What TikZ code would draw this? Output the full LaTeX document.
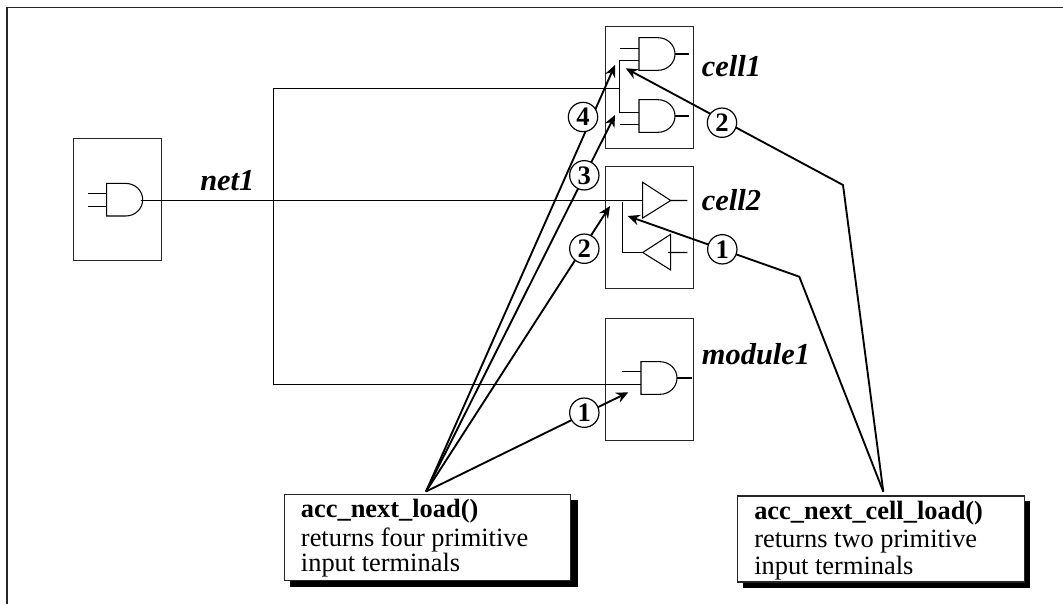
\documentclass[tikz,border=0pt]{standalone}
\usepackage{fontspec}
\setmainfont{Liberation Serif}
\usetikzlibrary{arrows.meta}
\tikzset{
  x=0.75pt,y=-0.75pt,
  box/.style={draw=black!85,line width=0.9pt},
  wire/.style={draw=black,line width=0.8pt},
  pointer/.style={draw=black,line width=1.4pt,-{Stealth[length=9pt,width=8pt,inset=3pt]}},
  num/.style={circle,draw=black,line width=0.9pt,fill=white,minimum size=22pt,inner sep=0pt,font=\fontsize{20}{20}\selectfont\bfseries},
  lab/.style={anchor=base west,inner sep=0pt,font=\fontsize{22.8}{22.8}\selectfont\bfseries\itshape},
  txt/.style={anchor=base west,inner sep=0pt,font=\fontsize{19.8}{19.8}\selectfont},
  txb/.style={txt,font=\fontsize{19.8}{19.8}\selectfont\bfseries},
  andgate/.pic={\draw[wire] (-17,-16.3)--(-17,16.3)--(2,16.3) arc[start angle=-90,end angle=90,x radius=17,y radius=-16.3]--cycle;},
  callout/.style={draw=black!85,line width=0.9pt,fill=white,minimum height=64.5pt,inner sep=0pt,anchor=north west},
}
\begin{document}
\begin{tikzpicture}
\useasboundingbox (0,0) rectangle (1063,604);
\draw[box] (7,604)--(7,7.5)--(1063,7.5);
% boxes
\node[box,minimum width=66pt,minimum height=91.5pt,inner sep=0pt,anchor=north west] (src) at (72.7,138) {};
\node[box,minimum width=66pt,minimum height=91.5pt,inner sep=0pt,anchor=north west] (cellA) at (604.7,26) {};
\node[box,minimum width=66pt,minimum height=91.5pt,inner sep=0pt,anchor=north west] (cellB) at (604.7,166) {};
\node[box,minimum width=66pt,minimum height=91.5pt,inner sep=0pt,anchor=north west] (modA) at (604.5,318) {};
% gates
\pic at (123.7,199.7) {andgate};
\draw[wire] (88.3,193.5)--(106.7,193.5) (88.3,206.5)--(106.7,206.5);
\pic at (656,54) {andgate};
\draw[wire] (620,48.5)--(639,48.5) (619,60.5)--(639,60.5) (675,54)--(689.3,54);
\pic at (656,116) {andgate};
\draw[wire] (619,112.5)--(639,112.5) (620,124.5)--(639,124.5) (675,116)--(689.3,116);
\pic at (658,378) {andgate};
\draw[wire] (622,371.5)--(641,371.5) (676.7,378)--(691.7,378);
\draw[wire] (642.7,182.3)--(670.7,200.5)--(642.7,218)--cycle (670.7,200.5)--(687.3,200.5);
\draw[wire] (670.7,234.3)--(642.7,252.5)--(670.7,270)--cycle (668,252.5)--(687.3,252.5);
\draw[wire] (622.7,201.7)--(622.7,252.5)--(642.7,252.5);
% nets
\coordinate (srcOut) at (140.7,200.5);
\coordinate (bufIn) at (642.7,200.5);
\coordinate (busTop) at (273.5,88.5);
\coordinate (busBot) at (273.5,384.5);
\coordinate (modIn) at (641,384.5);
\draw[wire] (srcOut)--(bufIn);
\draw[wire] (619.5,60.5)--(619.5,112.5) (619.5,88.5)--(busTop)--(busBot)--(modIn);
% labels
\node[lab] (lnet) at (200,190) {net1};
\node[lab] (lc1) at (701.7,76.7) {cell1};
\node[lab] (lc2) at (701.7,210.7) {cell2};
\node[lab] (lm1) at (701.7,364.3) {module1};
% callouts
\fill[black] (290,499.5) rectangle (577.5,587.3);
\node[callout,minimum width=214.7pt] (cA) at (283.7,494) {};
\fill[black] (743,501) rectangle (1030,588);
\node[callout,minimum width=215pt] (cB) at (737,495.3) {};
\node[txb] (t1) at (300.7,517.7) {acc\_next\_load()};
\node[txt] (t2) at (300.7,546) {returns four primitive};
\node[txt] (t3) at (300.7,571.7) {input terminals};
\node[txb] (t4) at (754,519) {acc\_next\_cell\_load()};
\node[txt] (t5) at (754,547) {returns two primitive};
\node[txt] (t6) at (754,574) {input terminals};
% pointers
\coordinate (apA) at (426,491.5);
\coordinate (apB) at (883.3,491.7);
\coordinate (p4) at (615,65);
\coordinate (p3) at (615,115);
\coordinate (p2) at (610,206);
\coordinate (p1) at (628.3,392.3);
\coordinate (q1) at (627.7,216);
\coordinate (q2) at (625.7,68.3);
\coordinate (k1) at (799.3,276.7);
\coordinate (k2) at (843,185);
\draw[pointer] (apA)--(p4);
\draw[pointer] (apA)--(p3);
\draw[pointer] (apA)--(p2);
\draw[pointer] (apA)--(p1);
\draw[pointer] (apB)--(k1)--(q1);
\draw[pointer] (apB)--(k2)--(q2);
\node[num] (n4) at (583,117) {4};
\node[num] (n3) at (584.3,175.3) {3};
\node[num] (n2) at (584.3,248.7) {2};
\node[num] (n1) at (584.3,412.7) {1};
\node[num] (m1) at (722.3,249.3) {1};
\node[num] (m2) at (722,122.7) {2};
\end{tikzpicture}
\end{document}
